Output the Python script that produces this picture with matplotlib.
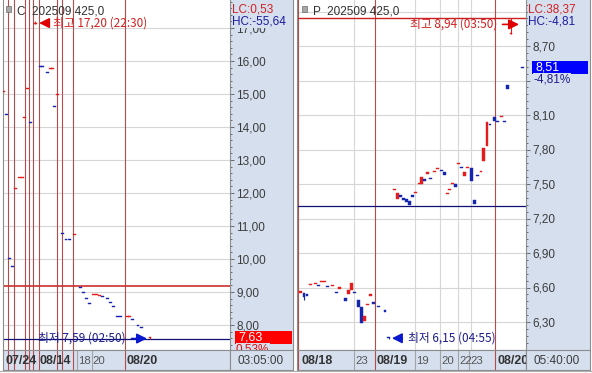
import matplotlib
matplotlib.use("Agg")
import matplotlib.pyplot as plt
from matplotlib.patches import Rectangle
from matplotlib.ticker import MultipleLocator, FuncFormatter
from matplotlib.transforms import offset_copy, blended_transform_factory

W, H = 592, 373
BOT, DBOT = 350, 370          # 차트 하단, 날짜줄 하단 (px)

KR = ["Noto Sans CJK KR", "DejaVu Sans"]
NUM = ["Liberation Sans", "DejaVu Sans"]

UP = "#e41c1c"
DN = "#1426b0"
RED_TXT = "#d41e1e"
NAVY_TXT = "#1c1c8c"
SESS = "#b44c4c"
GRID = "#d6d6d6"
STRIP = "#d5dfee"
EDGE = "#8c8c8c"

# ---------------- C 202509 425.0 (콜) ----------------
c_title = "C  202509 425,0"
c_x = [0.3, 1.3, 2.3, 3.3, 4.3, 5.5, 6.5, 7.3, 8.3, 9.3, 10.7, 12.5, 13.3, 14.7,
       15.8, 16.6, 17.3, 18.3, 19.7, 21.0, 22.3, 23.7, 25.7, 26.7, 27.7, 28.7,
       30.3, 31.3, 32.3, 33.3, 34.7, 35.7, 36.7, 38.3, 39.3, 41.5, 42.3, 43.3,
       45.0, 46.3, 49.0]
c_open = [15.07, 14.38, 10.02, 9.78, 12.13, 12.46, 12.46, 14.28, 15.16, 14.14, 17.13,
          15.84, 15.84, 15.66, 15.77, 15.77, 14.63, 14.98, 10.78, 10.60, 10.60, 10.74,
          9.14, 8.99, 8.81, 8.66, 8.92, 8.92, 8.89, 8.87, 8.81, 8.69, 8.57, 8.26, 8.26,
          8.25, 8.25, 8.17, 7.99, 7.93, 7.61]
c_close = [15.09, 14.36, 10.00, 9.76, 12.15, 12.48, 12.48, 14.30, 15.18, 14.12, 17.15,
           15.82, 15.82, 15.64, 15.79, 15.79, 14.61, 15.00, 10.76, 10.58, 10.58, 10.76,
           9.12, 8.97, 8.79, 8.64, 8.94, 8.94, 8.91, 8.85, 8.79, 8.67, 8.55, 8.24, 8.24,
           8.27, 8.27, 8.15, 7.97, 7.91, 7.63]
c_hi_i, c_hi_val, c_hi_time = 10, 17.20, "22:30"
c_lo_i, c_lo_val, c_lo_time = 40, 7.59, "02:50"
c_ref_line = 9.18
c_sessions = [1.67, 3.67, 7.33, 8.67, 10.0, 12.0, 18.0, 19.67, 23.33, 40.67]
c_seps = [24.55, 29.55]
c_dates = ["07/24", "08/14", "18", "20", "08/20"]
c_date_x = [0.4, 12.0, 24.6, 29.6, 40.7]
c_date_bold = [True, True, False, False, True]
c_lc, c_hc = "LC:0,53", "HC:-55,64"
c_last, c_pct = 7.63, "0,53%"
c_time = "03:05:00"
c_hidden = []

# ---------------- P 202509 425.0 (풋) ----------------
p_title = "P  202509 425,0"
p_x = [0.7, 2.0, 3.0, 4.2, 5.7, 6.8, 7.8, 8.8, 9.8, 11.5, 12.8, 13.8, 15.8, 16.8,
       17.8, 18.7, 20.2, 21.2, 22.2, 23.2, 24.2, 25.2, 26.7, 29.0, 30.3, 32.2, 33.2,
       34.2, 35.2, 36.2, 37.2, 38.2, 39.3, 40.5, 41.3, 42.3, 43.3, 44.3, 45.5, 46.5,
       47.7, 48.7, 49.7, 50.5, 51.5, 52.5, 53.5, 54.5, 55.5, 56.5, 57.8, 58.8, 59.8,
       61.0, 61.8, 63.0, 64.0, 65.5, 66.5, 67.8, 68.8, 69.8, 71.0, 74.8]
p_open = [6.55, 6.55, 6.54, 6.62, 6.63, 6.62, 6.65, 6.65, 6.61, 6.61, 6.56, 6.59,
          6.51, 6.54, 6.58, 6.56, 6.49, 6.43, 6.31, 6.45, 6.53, 6.47, 6.44, 6.40,
          6.17, 7.45, 7.37, 7.40, 7.38, 7.37, 7.35, 7.40, 7.42, 7.50, 7.50, 7.54,
          7.59, 7.55, 7.60, 7.63, 7.62, 7.60, 7.41, 7.45, 7.50, 7.50, 7.67, 7.65,
          7.57, 7.64, 7.64, 7.36, 7.58, 7.60, 7.70, 7.83, 8.02, 8.08, 8.05, 8.08,
          8.05, 8.36, 8.80, 8.52]
p_close = [6.57, 6.52, 6.53, 6.63, 6.64, 6.61, 6.66, 6.66, 6.60, 6.62, 6.55, 6.60,
           6.48, 6.58, 6.64, 6.55, 6.43, 6.29, 6.35, 6.46, 6.54, 6.46, 6.43, 6.39,
           6.16, 7.46, 7.42, 7.39, 7.36, 7.34, 7.32, 7.39, 7.43, 7.51, 7.56, 7.53,
           7.60, 7.54, 7.61, 7.64, 7.61, 7.58, 7.42, 7.46, 7.51, 7.47, 7.68, 7.64,
           7.60, 7.65, 7.53, 7.33, 7.57, 7.61, 7.81, 8.04, 8.01, 8.05, 8.04, 8.09,
           8.04, 8.33, 8.81, 8.51]
p_hi_i, p_hi_val, p_hi_time = 62, 8.94, "03:50"
p_lo_i, p_lo_val, p_lo_time = 24, 6.15, "04:55"
p_wick_i, p_wick_low = 1, 6.49
p_ref_line = 7.31
p_sessions = [0.0, 25.67, 65.67]
p_vgrid = [18.67, 39.0, 47.33, 53.33, 57.67]
p_seps = [18.67, 39.0, 47.33, 53.33, 57.1]
p_dates = ["08/18", "23", "08/19", "19", "20", "22", "23", "08/20"]
p_date_x = [1.0, 18.8, 25.8, 39.1, 47.4, 53.3, 57.2, 66.0]
p_date_bold = [True, False, True, False, False, False, False, True]
p_lc, p_hc = "LC:38,37", "HC:-4,81"
p_last, p_pct = 8.51, "-4,81%"
p_time = "05:40:00"
p_hidden = [8.40, 9.00]      # 가격박스/LC·HC 에 가려지는 눈금

fig = plt.figure(figsize=(W / 100, H / 100), dpi=100)
fig.patch.set_facecolor("white")


def box(x0, y0, x1, y1):
    return fig.add_axes([x0 / W, 1 - y1 / H, (x1 - x0) / W, (y1 - y0) / H])


def fmt(v):
    return f"{v:.2f}".replace(".", ",")


def ftext(x, y, s, **kw):
    return fig.text(x / W, 1 - y / H, s, va="center", **kw)


def plain(a, color=STRIP):
    a.set_facecolor(color)
    a.set_xticks([])
    a.set_yticks([])
    for s in a.spines.values():
        s.set_color(EDGE)
        s.set_linewidth(0.8)


def panel(px0, px1, px2, xlim, ylim, major, minor, hidden):
    bg = box(px1, 0, px2, BOT)
    plain(bg)
    for k in ("left", "top", "bottom"):
        bg.spines[k].set_visible(False)
    ax = box(px0, 0, px1, BOT)
    ax.set_xlim(*xlim)
    ax.set_ylim(*ylim)
    ax.set_xticks([])
    ax.yaxis.tick_right()
    ax.yaxis.set_major_locator(MultipleLocator(major))
    ax.yaxis.set_minor_locator(MultipleLocator(minor))
    ax.yaxis.set_major_formatter(FuncFormatter(
        lambda v, p: "" if any(abs(v - h) < 1e-6 for h in hidden) else fmt(v)))
    ax.tick_params(axis="y", which="major", length=3, width=0.7, color="#6a6a6a",
                   labelsize=8.5, labelcolor="#3c3c3c", pad=1.5)
    ax.tick_params(axis="y", which="minor", length=1.6, width=0.7, color="#6a6a6a")
    for lab in ax.get_yticklabels():
        lab.set_family(NUM)
    ax.grid(axis="y", which="major", color=GRID, lw=0.8)
    ax.set_axisbelow(True)
    ax.spines["top"].set_visible(False)
    for k in ("left", "right", "bottom"):
        ax.spines[k].set_color(EDGE)
        ax.spines[k].set_linewidth(0.8)
    return ax


def candles(ax, xs, op, cl, hi, lo):
    for x, o, c, h, l in zip(xs, op, cl, hi, lo):
        col = UP if c >= o else DN
        if h > max(o, c) or l < min(o, c):
            ax.vlines(x, l, h, color=col, lw=0.8, zorder=3)
        ax.bar(x, abs(c - o), bottom=min(o, c), width=0.95, color=col,
               edgecolor=col, linewidth=0.3, zorder=3)


def date_strip(ax, px0, px1, px2, sessions, seps, labels, lx, bold, time_txt):
    ds = box(px0, BOT, px1, DBOT)
    plain(ds)
    ds.set_xlim(ax.get_xlim())
    ds.set_ylim(0, 1)
    for s in seps:
        ds.axvline(s, color="#a4a4a4", lw=0.8)
    for s in sessions:
        ds.axvline(s, color=SESS, lw=0.8)
    tr = offset_copy(ds.transData, fig=fig, x=1, y=0, units="dots")
    for t, x, b in zip(labels, lx, bold):
        ds.text(x, 0.45, t, transform=tr, ha="left", va="center",
                fontsize=9 if b else 8.2, family=NUM,
                fontweight="bold" if b else "normal",
                color="#333333" if b else "#555555", clip_on=True)
    tb = box(px1, BOT, px2, DBOT)
    plain(tb)
    tb.text(0.48, 0.45, time_txt, ha="center", va="center", fontsize=8.5,
            family=NUM, color="#3c3c3c", transform=tb.transAxes)


def price_box(ax, x0, w, value, color, pct, pct_color):
    ppu = BOT / (ax.get_ylim()[1] - ax.get_ylim()[0])
    h = 13 / ppu
    tr = blended_transform_factory(fig.transFigure, ax.transData)
    ax.add_patch(Rectangle((x0 / W, value - h / 2), w / W, h, transform=tr,
                           fc=color, ec="none", clip_on=False, zorder=6))
    ax.text((x0 + 3) / W, value, fmt(value), transform=tr, color="white",
            va="center", ha="left", fontsize=9, family=NUM, clip_on=False, zorder=7)
    ax.text((x0 + 1) / W, value - 12 / ppu, pct, transform=tr, color=pct_color,
            va="center", ha="left", fontsize=8.5, family=NUM, clip_on=False, zorder=7,
            bbox=dict(fc=STRIP, ec="none", pad=0.3))


def note(ax, xy, dx, dy, text, tx, color, acolor, left):
    pt = offset_copy(ax.transData, fig=fig, x=dx, y=dy, units="dots")
    ax.annotate(text, xy=xy, xycoords=pt, xytext=(tx, 0), textcoords="offset pixels",
                ha="left" if left else "right", va="center", color=color,
                fontsize=8.5, family=KR, zorder=8, annotation_clip=False,
                arrowprops=dict(arrowstyle="-|>", color=acolor, lw=1.2,
                                mutation_scale=15, relpos=(0, 0.5) if left else (1, 0.5),
                                shrinkA=2, shrinkB=0))


# ---------------- 왼쪽 패널 ----------------
c_high = [max(o, c) for o, c in zip(c_open, c_close)]
c_low = [min(o, c) for o, c in zip(c_open, c_close)]
c_high[c_hi_i] = c_hi_val
c_low[c_lo_i] = c_lo_val

axc = panel(3, 230, 293, (0, 227 / 3), (16 - 289 / 33, 16 + 61 / 33), 1.0, 0.2, c_hidden)
for s in c_sessions:
    axc.axvline(s, color=SESS, lw=0.8, zorder=1)
axc.axhline(c_ref_line, color="#cc3030", lw=1.2, zorder=2)
axc.axhline(c_lo_val, color="#10107a", lw=0.9, zorder=2)
candles(axc, c_x, c_open, c_close, c_high, c_low)
note(axc, (c_x[c_hi_i], c_close[c_hi_i]), 4, 0, f"최고 {fmt(c_hi_val)} ({c_hi_time})",
     14, RED_TXT, "#e00000", True)
note(axc, (c_x[c_lo_i], c_lo_val), -3, 0, f"최저 {fmt(c_lo_val)} ({c_lo_time})",
     -21, NAVY_TXT, "#0a18d0", False)
price_box(axc, 235, 57, c_last, "#ff0000", c_pct, "#e01010")
date_strip(axc, 3, 230, 293, c_sessions, c_seps, c_dates, c_date_x, c_date_bold, c_time)

# ---------------- 오른쪽 패널 ----------------
p_high = [max(o, c) for o, c in zip(p_open, p_close)]
p_low = [min(o, c) for o, c in zip(p_open, p_close)]
p_high[p_hi_i] = p_hi_val
p_low[p_lo_i] = p_lo_val
p_low[p_wick_i] = p_wick_low

axp = panel(297, 526, 590, (-1 / 3, 76.0), (8.70 - 304 / 115, 8.70 + 46 / 115),
            0.3, 0.06, p_hidden)
for s in p_vgrid:
    axp.axvline(s, color=GRID, lw=0.8, zorder=0.5)
for s in p_sessions:
    axp.axvline(s, color=SESS, lw=0.8, zorder=1)
axp.axhline(p_hi_val, color="#cc2020", lw=1.0, zorder=2)
axp.axhline(p_ref_line, color="#10107a", lw=0.9, zorder=2)
candles(axp, p_x, p_open, p_close, p_high, p_low)
note(axp, (p_x[p_hi_i], p_hi_val), 8, -6, f"최고 {fmt(p_hi_val)} ({p_hi_time})",
     -22, RED_TXT, "#e00000", False)
note(axp, (p_x[p_lo_i], p_lo_val), 3, 1, f"최저 {fmt(p_lo_val)} ({p_lo_time})",
     16, NAVY_TXT, "#0a18d0", True)
price_box(axp, 532, 56, p_last, "#0000ff", p_pct, NAVY_TXT)
date_strip(axp, 297, 526, 590, p_sessions, p_seps, p_dates, p_date_x, p_date_bold, p_time)

# ---------------- 제목 / LC·HC ----------------
for x0, title in ((6, c_title), (302, p_title)):
    fig.add_artist(Rectangle((x0 / W, 1 - 12 / H), 5 / W, 6 / H, transform=fig.transFigure,
                             fc="#a8a8a8", ec="#6c6c6c", lw=0.5))
    ftext(x0 + 11, 11, title, fontsize=8.5, family=NUM, color="#303030")

for x0, lc, hc in ((232, c_lc, c_hc), (528, p_lc, p_hc)):
    ftext(x0, 9, lc, fontsize=8.5, family=NUM, color="#d42020",
          bbox=dict(fc=STRIP, ec="none", pad=0.3))
    ftext(x0, 22, hc, fontsize=8.5, family=NUM, color="#1c1ca0",
          bbox=dict(fc=STRIP, ec="none", pad=0.3))

fig.add_artist(plt.Line2D([0, 1], [1 - 371 / H] * 2, transform=fig.transFigure,
                          color="#b0b0b0", lw=0.8))

fig.savefig("out.png", dpi=100)
